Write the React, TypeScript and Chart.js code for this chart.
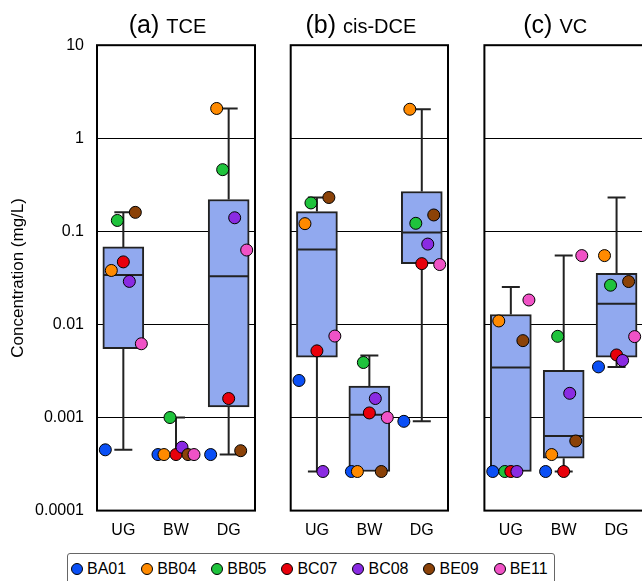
import React, { useEffect, useRef } from 'react';
import { Chart, registerables } from 'chart.js';

Chart.register(...registerables);

const FONT = "'Liberation Sans', Arial, Helvetica, sans-serif";
Chart.defaults.font.family = FONT;
Chart.defaults.color = '#000';

// ---- categories, wells, ticks ----
const GROUPS = ['UG', 'BW', 'DG'];
const WELLS = ['BA01', 'BB04', 'BB05', 'BC07', 'BC08', 'BE09', 'BE11'];
const WELL_COLORS = ['#0a4ff5', '#ff8a00', '#1fc33c', '#e8000b', '#8a2be2', '#8b4208', '#f052c6'];
const Y_TICKS = [0.0001, 0.001, 0.01, 0.1, 1, 10];
const Y_TICK_LABELS = ['0.0001', '0.001', '0.01', '0.1', '1', '10'];

// ---- values per well (order = WELLS) ----
const TCE_UG = [0.00045, 0.038, 0.131, 0.047, 0.029, 0.16, 0.0062];
const TCE_BW = [0.0004, 0.0004, 0.001, 0.0004, 0.00048, 0.0004, 0.0004];
const TCE_DG = [0.0004, 2.09, 0.46, 0.0016, 0.14, 0.00044, 0.063];

const DCE_UG = [0.0025, 0.121, 0.202, 0.0052, 0.000263, 0.231, 0.0075];
const DCE_BW = [0.000263, 0.000263, 0.0039, 0.00112, 0.0016, 0.000263, 0.001];
const DCE_DG = [0.00091, 2.05, 0.122, 0.045, 0.073, 0.15, 0.044];

const VC_UG = [0.000263, 0.0109, 0.000263, 0.000263, 0.000263, 0.0067, 0.0183];
const VC_BW = [0.000263, 0.0004, 0.00745, 0.000263, 0.00182, 0.00056, 0.0549];
const VC_DG = [0.0035, 0.0549, 0.0264, 0.0047, 0.0041, 0.0289, 0.0074];

// ---- box statistics [min, q1, median, q3, max] ----
const TCE_BOX_UG = [0.00045, 0.0055, 0.034, 0.068, 0.16];
const TCE_BOX_BW = [0.0004, 0.0004, 0.0004, 0.0004, 0.001];
const TCE_BOX_DG = [0.0004, 0.0013, 0.033, 0.22, 2.09];

const DCE_BOX_UG = [0.000263, 0.00446, 0.064, 0.163, 0.231];
const DCE_BOX_BW = [0.000263, 0.000263, 0.00107, 0.00218, 0.00463];
const DCE_BOX_DG = [0.00091, 0.0449, 0.097, 0.268, 2.05];

const VC_BOX_UG = [0.000263, 0.000263, 0.00345, 0.0128, 0.0252];
const VC_BOX_BW = [0.000263, 0.000366, 0.000634, 0.00321, 0.0549];
const VC_BOX_DG = [0.0035, 0.00446, 0.0167, 0.0354, 0.231];

const JITTER = 0.114; // horizontal spread of the wells within a group (category units)
const CANVAS_H = 545;
const BOX_FILL = '#91a9ef';
const LINE = '#222';

function makeTitlePlugin(letter: string, name: string) {
  return {
    id: 'panelTitle',
    afterDraw(chart: any) {
      const { ctx, chartArea } = chart;
      ctx.save();
      ctx.fillStyle = '#000';
      ctx.textBaseline = 'alphabetic';
      ctx.textAlign = 'left';
      ctx.font = `25px ${FONT}`;
      const w1 = ctx.measureText(letter).width;
      ctx.font = `20px ${FONT}`;
      const w2 = ctx.measureText(name).width;
      const gap = 7;
      const cx = (chartArea.left + chartArea.right) / 2 - 8.5;
      const x = cx - (w1 + gap + w2) / 2;
      ctx.font = `25px ${FONT}`;
      ctx.fillText(letter, x, 33);
      ctx.font = `20px ${FONT}`;
      ctx.fillText(name, x + w1 + gap, 33);
      ctx.restore();
    },
  };
}

const framePlugin = {
  id: 'panelFrame',
  beforeDatasetsDraw(chart: any) {
    const { ctx, chartArea } = chart;
    ctx.save();
    ctx.strokeStyle = '#000';
    ctx.lineWidth = 2;
    ctx.strokeRect(chartArea.left, chartArea.top, chartArea.right - chartArea.left, chartArea.bottom - chartArea.top);
    ctx.restore();
  },
};

function makeWhiskerPlugin(boxes: number[][]) {
  return {
    id: 'whiskers',
    afterDatasetDraw(chart: any, args: any) {
      if (args.meta.type !== 'bar') return;
      const { ctx } = chart;
      const xs = chart.scales.x;
      const ys = chart.scales.y;
      const cap = 9;
      ctx.save();
      ctx.strokeStyle = LINE;
      ctx.lineWidth = 2;
      boxes.forEach((b, i) => {
        const cx = xs.getPixelForValue(i);
        const pMin = ys.getPixelForValue(b[0]);
        const pQ1 = ys.getPixelForValue(b[1]);
        const pMed = ys.getPixelForValue(b[2]);
        const pQ3 = ys.getPixelForValue(b[3]);
        const pMax = ys.getPixelForValue(b[4]);
        ctx.beginPath();
        if (b[4] > b[3]) {
          ctx.moveTo(cx, pQ3);
          ctx.lineTo(cx, pMax);
          ctx.moveTo(cx - cap, pMax);
          ctx.lineTo(cx + cap, pMax);
        }
        if (b[0] < b[1]) {
          ctx.moveTo(cx, pQ1);
          ctx.lineTo(cx, pMin);
          ctx.moveTo(cx - cap, pMin);
          ctx.lineTo(cx + cap, pMin);
        }
        const el = args.meta.data[i];
        if (el && b[3] > b[1]) {
          const half = el.width / 2;
          ctx.moveTo(cx - half + 1, pMed);
          ctx.lineTo(cx + half - 1, pMed);
        }
        ctx.stroke();
      });
      ctx.restore();
    },
  };
}

type PanelProps = {
  letter: string;
  name: string;
  values: number[][];
  boxes: number[][];
  left: number;
  width: number;
  axisWidth: number;
  showY: boolean;
};

function Panel(p: PanelProps) {
  const ref = useRef<HTMLCanvasElement>(null);
  useEffect(() => {
    const datasets: any[] = [
      {
        type: 'bar',
        data: GROUPS.map((g, i) => ({ x: i, y: [p.boxes[i][1], p.boxes[i][3]] })),
        backgroundColor: BOX_FILL,
        borderColor: LINE,
        borderWidth: 2,
        borderSkipped: false,
        barThickness: 41,
        order: 100,
      },
    ];
    WELLS.forEach((w, wi) => {
      datasets.push({
        type: 'scatter',
        label: w,
        data: GROUPS.map((g, gi) => ({ x: gi + (wi - 3) * JITTER, y: p.values[gi][wi] })),
        backgroundColor: WELL_COLORS[wi],
        borderColor: '#000',
        borderWidth: 1,
        pointRadius: 6,
        pointHoverRadius: 6,
        clip: false,
        order: WELLS.length - wi,
      });
    });

    const chart = new Chart(ref.current as HTMLCanvasElement, {
      type: 'bar',
      data: { datasets },
      options: {
        responsive: false,
        animation: false,
        events: [],
        layout: { padding: { top: 45.2, right: 6, left: 0, bottom: 0 } },
        plugins: { legend: { display: false }, tooltip: { enabled: false }, title: { display: false } },
        scales: {
          x: {
            type: 'linear',
            min: -0.5,
            max: 2.5,
            offset: false,
            grid: { display: false, offset: false },
            border: { display: false },
            afterBuildTicks: (axis: any) => {
              axis.ticks = GROUPS.map((g, i) => ({ value: i }));
            },
            afterFit: (axis: any) => {
              axis.height = 34.4;
            },
            ticks: {
              autoSkip: false,
              maxRotation: 0,
              padding: 2,
              font: { size: 16 },
              color: '#000',
              callback: (v: any) => GROUPS[Math.round(Number(v))] ?? '',
            },
          },
          y: {
            type: 'logarithmic',
            min: 0.0001,
            max: 10,
            border: { display: false },
            grid: { color: '#000', lineWidth: 1, drawTicks: false },
            afterBuildTicks: (axis: any) => {
              axis.ticks = Y_TICKS.map((v) => ({ value: v }));
            },
            afterFit: (axis: any) => {
              axis.width = p.axisWidth;
            },
            ticks: {
              display: p.showY,
              autoSkip: false,
              padding: 13,
              font: { size: 16 },
              color: '#000',
              callback: (v: any) => {
                const idx = Y_TICKS.findIndex((t) => Math.abs(Math.log10(t) - Math.log10(Number(v))) < 1e-6);
                return idx >= 0 ? Y_TICK_LABELS[idx] : '';
              },
            },
            title: {
              display: p.showY,
              text: 'Concentration (mg/L)',
              font: { size: 17 },
              color: '#000',
              padding: { top: 8, bottom: 0 },
            },
          },
        },
      } as any,
      plugins: [framePlugin, makeWhiskerPlugin(p.boxes), makeTitlePlugin(p.letter, p.name)],
    });
    return () => chart.destroy();
  }, []);
  return (
    <canvas
      ref={ref}
      width={p.width}
      height={CANVAS_H}
      style={{ position: 'absolute', left: p.left, top: 0 }}
    />
  );
}

function Legend() {
  return (
    <div
      style={{
        position: 'absolute',
        left: 67,
        top: 553,
        height: 40,
        boxSizing: 'border-box',
        border: '1px solid #666',
        borderRadius: 3,
        padding: '6px 6px 0 3px',
        display: 'flex',
        alignItems: 'flex-start',
        gap: 15,
        fontFamily: FONT,
        fontSize: 16,
        color: '#000',
        background: '#fff',
      }}
    >
      {WELLS.map((w, i) => (
        <div key={w} style={{ display: 'flex', alignItems: 'center', height: 18, lineHeight: '18px' }}>
          <span
            style={{
              display: 'inline-block',
              width: 12,
              height: 12,
              borderRadius: '50%',
              border: '1px solid #000',
              boxSizing: 'border-box',
              background: WELL_COLORS[i],
              marginRight: 4,
            }}
          />
          <span>{w}</span>
        </div>
      ))}
    </div>
  );
}

export default function App() {
  return (
    <div
      style={{
        position: 'absolute',
        left: 0,
        top: 0,
        width: 642,
        height: 581,
        overflow: 'hidden',
        background: '#fff',
      }}
    >
      <Panel letter="(a)" name="TCE" values={[TCE_UG, TCE_BW, TCE_DG]} boxes={[TCE_BOX_UG, TCE_BOX_BW, TCE_BOX_DG]} left={0} width={262} axisWidth={97} showY={true} />
      <Panel letter="(b)" name="cis-DCE" values={[DCE_UG, DCE_BW, DCE_DG]} boxes={[DCE_BOX_UG, DCE_BOX_BW, DCE_BOX_DG]} left={270} width={185} axisWidth={20.7} showY={false} />
      <Panel letter="(c)" name="VC" values={[VC_UG, VC_BW, VC_DG]} boxes={[VC_BOX_UG, VC_BOX_BW, VC_BOX_DG]} left={464} width={186} axisWidth={20.4} showY={false} />
      <Legend />
    </div>
  );
}
